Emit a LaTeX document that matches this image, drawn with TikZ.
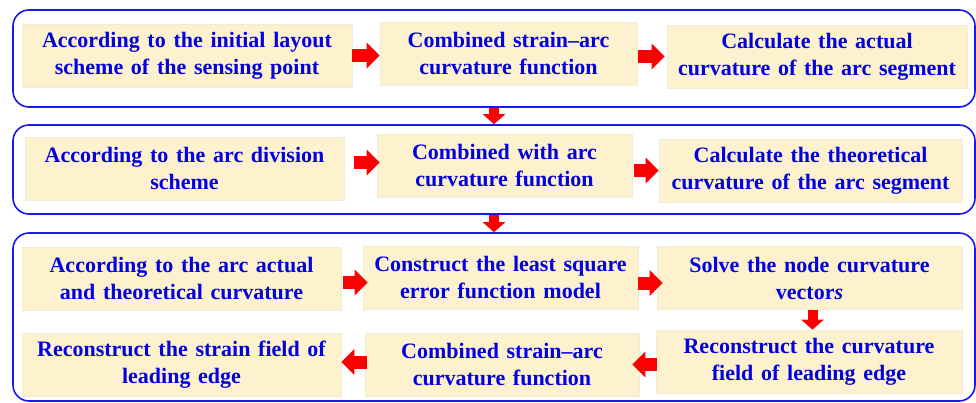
\documentclass[tikz,border=0pt]{standalone}
\usepackage{fontspec}
\setmainfont{Liberation Serif}[WordSpace=1.4]
\usetikzlibrary{arrows.meta,calc}
\definecolor{boxfill}{RGB}{254,241,205}
\definecolor{boxline}{RGB}{238,238,215}
\definecolor{txtblue}{RGB}{0,0,225}
\definecolor{frameblue}{RGB}{25,25,235}
\definecolor{arrred}{RGB}{250,0,0}
\tikzset{
  stepbox/.style={draw=boxline, line width=0.6pt, fill=boxfill, text=txtblue,
    font=\bfseries\fontsize{22}{27}\selectfont, align=center, inner sep=0pt,
    minimum height=63},
  frame/.style={draw=frameblue, line width=1.6pt, rounded corners=16pt, inner sep=0pt},
  harrow/.style={draw=arrred, line width=13pt, -{Triangle[length=13pt,width=25pt]}},
  varrow/.style={draw=arrred, line width=10pt, -{Triangle[length=10pt,width=22pt]}},
}
\begin{document}
\begin{tikzpicture}[x=1pt,y=-1pt]
\useasboundingbox (0,0) rectangle (976,403);
% containers
\node[frame, minimum width=962, minimum height=97] (c1) at (494,58.5) {};
\node[frame, minimum width=962, minimum height=89] (c2) at (494,169.5) {};
\node[frame, minimum width=962, minimum height=168] (c3) at (494,317) {};
% row 1
\node[stepbox, minimum width=330] (n1a) at (187,55.5) {According to the initial layout\\scheme of the sensing point};
\node[stepbox, minimum width=257] (n1b) at (508.5,53.5) {Combined strain–arc\\curvature function};
\node[stepbox, minimum width=300] (n1c) at (817,56.5) {Calculate the actual\\curvature of the arc segment};
% row 2
\node[stepbox, minimum width=319] (n2a) at (184.5,168.5) {According to the arc division\\scheme};
\node[stepbox, minimum width=255] (n2b) at (504.5,165.5) {Combined with arc\\curvature function};
\node[stepbox, minimum width=303] (n2c) at (810.5,170.5) {Calculate the theoretical\\curvature of the arc segment};
% row 3
\node[stepbox, minimum width=319] (n3a) at (181.5,278.5) {According to the arc actual\\and theoretical curvature};
\node[stepbox, minimum width=275] (n3b) at (500.5,278) {Construct the least square\\error function model};
\node[stepbox, minimum width=305] (n3c) at (809.5,278) {Solve the node curvature\\vector\textit{s}};
\node[stepbox, minimum width=306] (n3f) at (809,361.5) {Reconstruct the curvature\\field of leading edge};
\node[stepbox, minimum width=274] (n3e) at (502,364.5) {Combined strain–arc\\curvature function};
\node[stepbox, minimum width=319] (n3d) at (181.5,364.5) {Reconstruct the strain field of\\leading edge};
% arrows
\draw[harrow] (n1a.east) -- (n1a.east -| n1b.west);
\draw[harrow] ([xshift=1pt]n1b.east |- n1c.west) -- ([xshift=-2pt]n1c.west);
\draw[harrow] ([xshift=10pt,yshift=3pt]n2a.east |- n2b.west) -- ([xshift=3pt,yshift=3pt]n2b.west);
\draw[harrow] ([xshift=2pt]n2b.east |- n2c.west) -- (n2c.west);
\draw[harrow] ([xshift=2pt,yshift=-4pt]n3a.east) -- ([xshift=5pt,yshift=-4pt]n3a.east -| n3b.west);
\draw[harrow] ([yshift=-5pt]n3b.east) -- ([xshift=6pt,yshift=-5pt]n3b.east -| n3c.west);
\draw[harrow] ([xshift=1pt]n3f.west |- n3e.east) -- ([xshift=-7pt]n3e.east);
\draw[harrow] ([xshift=2pt,yshift=2.5pt]n3e.west) -- ([yshift=2.5pt]n3e.west -| n3d.east);
\draw[varrow] (c1.south) -- (c2.north);
\draw[varrow] (c2.south) -- (c3.north);
\draw[varrow] ([xshift=3pt]n3c.south) -- ([xshift=3pt]n3c.south |- n3f.north);
\end{tikzpicture}
\end{document}
